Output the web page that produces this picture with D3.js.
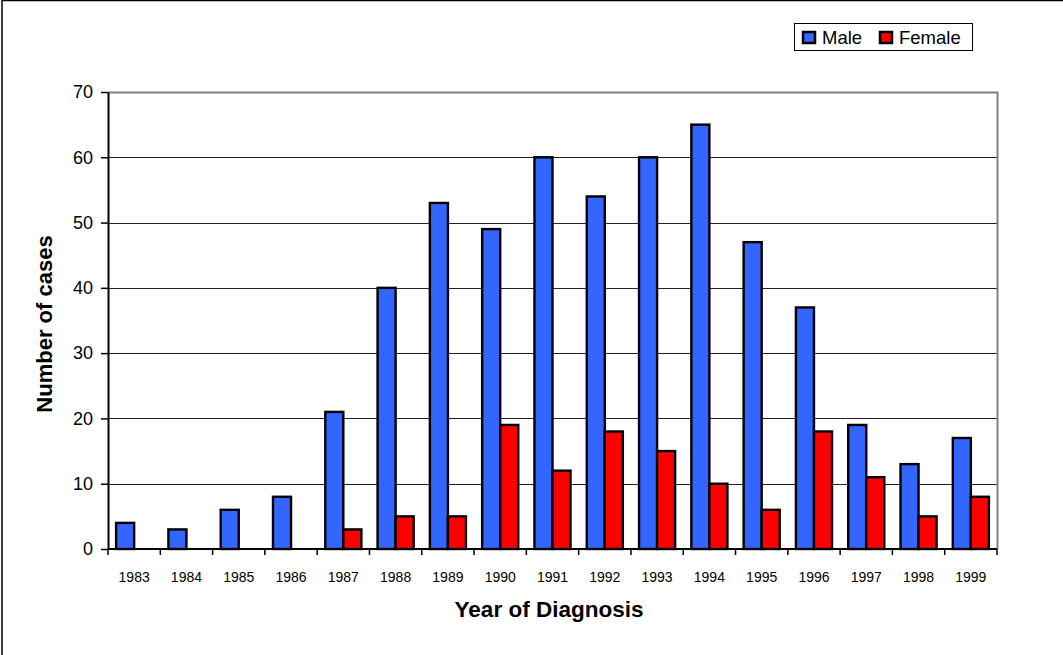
<!DOCTYPE html>
<html>
<head>
<meta charset="utf-8">
<script src="https://cdn.jsdelivr.net/npm/d3@7"></script>
<style>
  body { margin: 0; background: #fff; }
  svg { display: block; font-family: "Liberation Sans", Arial, sans-serif; }
</style>
</head>
<body>
<div id="chart"></div>
<script>
// data
var years = ["1983","1984","1985","1986","1987","1988","1989","1990","1991",
             "1992","1993","1994","1995","1996","1997","1998","1999"];
var male   = [4, 3, 6, 8, 21, 40, 53, 49, 60, 54, 60, 65, 47, 37, 19, 13, 17];
var female = [0, 0, 0, 0, 3, 5, 5, 19, 12, 18, 15, 10, 6, 18, 11, 5, 8];
var seriesNames = ["Male", "Female"];
var colors = ["#3366ff", "#ff0000"];
var yTicks = [0, 10, 20, 30, 40, 50, 60, 70];

var W = 1063, H = 655;
var plot = {left: 108, right: 997, top: 92, bottom: 549};

var svg = d3.select("#chart").append("svg")
    .attr("width", W)
    .attr("height", H);

// outer frame (only left / top visible)
svg.append("rect")
    .attr("x", 2).attr("y", 0.5)
    .attr("width", W + 10).attr("height", H + 10)
    .attr("fill", "#fff").attr("stroke", "#000").attr("stroke-width", 1.5);

var x = d3.scaleBand()
    .domain(years)
    .range([plot.left, plot.right])
    .paddingInner(0.31)
    .paddingOuter(0.155);

var xs = d3.scaleBand()
    .domain(seriesNames)
    .range([0, x.bandwidth()]);

var y = d3.scaleLinear()
    .domain([0, 70])
    .range([plot.bottom, plot.top]);

// gridlines
svg.append("g")
  .selectAll("line")
  .data(yTicks.filter(function (d) { return d > 0 && d < 70; }))
  .enter().append("line")
    .attr("x1", plot.left).attr("x2", plot.right)
    .attr("y1", function (d) { return Math.round(y(d)) + 0.5; })
    .attr("y2", function (d) { return Math.round(y(d)) + 0.5; })
    .attr("stroke", "#222").attr("stroke-width", 1);

// plot area top/right border
svg.append("path")
    .attr("d", "M" + plot.left + "," + (plot.top + 0.5) + "H" + (plot.right + 0.5) + "V" + plot.bottom)
    .attr("fill", "none").attr("stroke", "#808080").attr("stroke-width", 2);

// bars
var rows = years.map(function (yr, i) {
  return {year: yr, values: [male[i], female[i]]};
});

var groups = svg.append("g")
  .selectAll("g")
  .data(rows)
  .enter().append("g")
    .attr("transform", function (d) { return "translate(" + x(d.year) + ",0)"; });

groups.selectAll("rect")
  .data(function (d) {
    return d.values.map(function (v, k) { return {name: seriesNames[k], value: v, k: k}; })
      .filter(function (e) { return e.value > 0; });
  })
  .enter().append("rect")
    .attr("x", function (d) { return xs(d.name); })
    .attr("y", function (d) { return y(d.value); })
    .attr("width", xs.bandwidth())
    .attr("height", function (d) { return y(0) - y(d.value); })
    .attr("fill", function (d) { return colors[d.k]; })
    .attr("stroke", "#000").attr("stroke-width", 2.4);

// y axis
var yAxis = svg.append("g")
    .attr("transform", "translate(" + plot.left + ",0)")
    .call(d3.axisLeft(y).tickValues(yTicks).tickSize(7).tickPadding(8).tickSizeOuter(0));
yAxis.select(".domain").attr("stroke", "#000").attr("stroke-width", 2);
yAxis.selectAll(".tick line").attr("stroke", "#000").attr("stroke-width", 1.5);
yAxis.selectAll("text").attr("font-size", 18).attr("fill", "#000")
    .attr("font-family", "Liberation Sans, Arial, sans-serif");

// x axis: ticks between categories
var xAxisG = svg.append("g");
xAxisG.append("line")
    .attr("x1", plot.left).attr("x2", plot.right)
    .attr("y1", plot.bottom).attr("y2", plot.bottom)
    .attr("stroke", "#000").attr("stroke-width", 2);
var bounds = d3.range(years.length + 1).map(function (i) {
  return plot.left + i * (plot.right - plot.left) / years.length;
});
xAxisG.selectAll("line.tk")
  .data(bounds)
  .enter().append("line").attr("class", "tk")
    .attr("x1", function (d) { return d; }).attr("x2", function (d) { return d; })
    .attr("y1", plot.bottom).attr("y2", plot.bottom + 6)
    .attr("stroke", "#000").attr("stroke-width", 1.5);
xAxisG.selectAll("text")
  .data(years)
  .enter().append("text")
    .attr("x", function (d) { return x(d) + x.bandwidth() / 2; })
    .attr("y", 582)
    .attr("text-anchor", "middle")
    .attr("font-size", 14)
    .text(function (d) { return d; });

// axis titles
svg.append("text")
    .attr("x", 549)
    .attr("y", 617)
    .attr("text-anchor", "middle")
    .attr("font-size", 22.5).attr("font-weight", "bold")
    .text("Year of Diagnosis");

svg.append("text")
    .attr("transform", "translate(52,324) rotate(-90)")
    .attr("text-anchor", "middle")
    .attr("font-size", 22).attr("font-weight", "bold")
    .text("Number of cases");

// legend
var legend = svg.append("g");
legend.append("rect")
    .attr("x", 794.5).attr("y", 23.5)
    .attr("width", 178).attr("height", 27)
    .attr("fill", "#fff").attr("stroke", "#000").attr("stroke-width", 1);
var legendX = [803, 880];
seriesNames.forEach(function (name, k) {
  legend.append("rect")
      .attr("x", legendX[k]).attr("y", 32)
      .attr("width", 12).attr("height", 11)
      .attr("fill", colors[k]).attr("stroke", "#000").attr("stroke-width", 2.5);
  legend.append("text")
      .attr("x", legendX[k] + 19).attr("y", 44)
      .attr("font-size", 18.5)
      .text(name);
});
</script>
</body>
</html>
